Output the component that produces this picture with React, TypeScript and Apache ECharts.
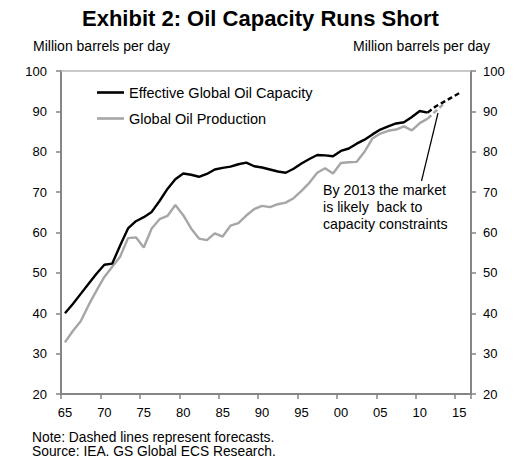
import React, { useEffect, useRef } from "react";
import * as echarts from "echarts";

const years: string[] = [];
for (let y = 1965; y <= 2016; y++) years.push(String(y));

// Effective Global Oil Capacity, actual 1965..2011
const capacityActual = [
  40.0, 42.3, 44.8, 47.3, 49.8, 52.0, 52.3, 56.8, 61.0, 62.8,
  63.8, 65.1, 67.8, 70.8, 73.2, 74.6, 74.3, 73.8, 74.5, 75.6,
  76.0, 76.3, 76.9, 77.3, 76.4, 76.1, 75.6, 75.1, 74.8, 75.8,
  77.1, 78.2, 79.2, 79.1, 78.9, 80.2, 80.8, 82.0, 83.0, 84.3,
  85.5, 86.3, 87.0, 87.3, 88.6, 90.1, 89.7,
];
// Capacity forecast 2011..2015
const capacityForecast = [89.7, 91.2, 92.3, 93.4, 94.5];

// Global Oil Production, actual 1965..2011
const productionActual = [
  32.8, 35.6, 38.0, 42.0, 45.6, 49.0, 51.5, 54.0, 58.6, 58.8,
  56.3, 61.0, 63.3, 64.1, 66.8, 64.3, 61.0, 58.5, 58.1, 59.8,
  59.0, 61.7, 62.3, 64.2, 65.8, 66.6, 66.3, 67.0, 67.4, 68.5,
  70.3, 72.3, 74.8, 75.9, 74.6, 77.2, 77.4, 77.5, 80.0, 83.3,
  84.5, 85.2, 85.5, 86.3, 85.3, 87.1, 88.2,
];
// Production forecast 2011..2013
const productionForecast = [88.2, 90.0, 91.8];

const forecastStartIndex = 2011 - 1965;

const yTicks = { min: 20, max: 100, interval: 10 };

const FONT = 'Arial, "Liberation Sans", sans-serif';

function pad(values: number[], start: number): (number | null)[] {
  const out: (number | null)[] = years.map(() => null);
  values.forEach((v, i) => {
    out[start + i] = v;
  });
  return out;
}

export default function App() {
  const ref = useRef<HTMLDivElement>(null);

  useEffect(() => {
    if (!ref.current) return;
    const chart = echarts.init(ref.current, null, { renderer: "svg" });
    const axisGray = "#858585";
    const yAxisCommon = {
      type: "value",
      min: yTicks.min,
      max: yTicks.max,
      interval: yTicks.interval,
      splitLine: { show: false },
      axisLine: { show: true, lineStyle: { color: axisGray, width: 2 } },
      axisTick: { show: true, inside: false, length: 5, lineStyle: { color: axisGray, width: 1.5 } },
    };
    chart.setOption({
      animation: false,
      backgroundColor: "#fff",
      textStyle: { fontFamily: FONT },
      grid: { left: 61, right: 61, top: 71, bottom: 78, containLabel: false },
      xAxis: [
        {
          type: "category",
          data: years,
          boundaryGap: true,
          position: "bottom",
          axisLine: { lineStyle: { color: axisGray, width: 2 } },
          axisTick: { show: true, interval: 4, length: 5, lineStyle: { color: axisGray, width: 1.5 } },
          axisLabel: {
            interval: 4,
            margin: 12,
            fontSize: 13,
            color: "#000",
            fontFamily: FONT,
            formatter: (v: string) => v.slice(2),
          },
          splitLine: { show: false },
        },
        {
          type: "category",
          data: years,
          boundaryGap: true,
          position: "top",
          axisLine: { lineStyle: { color: "#b8b8b8", width: 1.5 } },
          axisTick: { show: false },
          axisLabel: { show: false },
          splitLine: { show: false },
        },
      ],
      yAxis: [
        {
          ...yAxisCommon,
          position: "left",
          axisLabel: { margin: 14, fontSize: 13, color: "#000", fontFamily: FONT },
        },
        {
          ...yAxisCommon,
          position: "right",
          axisLabel: { margin: 12, fontSize: 13, color: "#000", fontFamily: FONT },
        },
      ],
      legend: {
        data: ["Effective Global Oil Capacity", "Global Oil Production"],
        orient: "vertical",
        left: 97,
        top: 85,
        padding: 0,
        icon: "rect",
        itemWidth: 27,
        itemHeight: 2.6,
        itemGap: 11,
        textStyle: { fontSize: 14.5, color: "#000", fontFamily: FONT },
      },
      series: [
        {
          name: "Global Oil Production",
          type: "line",
          symbol: "none",
          data: pad(productionActual, 0),
          lineStyle: { color: "#a6a6a6", width: 2.4 },
          itemStyle: { color: "#a6a6a6" },
        },
        {
          name: "Global Oil Production (forecast)",
          type: "line",
          symbol: "none",
          data: pad(productionForecast, forecastStartIndex),
          lineStyle: { color: "#a6a6a6", width: 2.4, type: [5, 3] },
          itemStyle: { color: "#a6a6a6" },
        },
        {
          name: "Effective Global Oil Capacity",
          type: "line",
          symbol: "none",
          data: pad(capacityActual, 0),
          lineStyle: { color: "#000", width: 2.4 },
          itemStyle: { color: "#000" },
        },
        {
          name: "Effective Global Oil Capacity (forecast)",
          type: "line",
          symbol: "none",
          data: pad(capacityForecast, forecastStartIndex),
          lineStyle: { color: "#000", width: 2.4, type: [5, 3] },
          itemStyle: { color: "#000" },
          markLine: {
            silent: true,
            symbol: ["none", "arrow"],
            symbolSize: [0, 9],
            label: { show: false },
            lineStyle: { color: "#000", width: 1.2, type: "solid" },
            data: [[{ x: 421.5, y: 181 }, { x: 438, y: 113 }]],
          },
        },
      ],
      graphic: [
        {
          type: "text",
          left: 82,
          top: 7,
          style: {
            text: "Exhibit 2: Oil Capacity Runs Short",
            font: `bold 22px ${FONT}`,
            fill: "#000",
          },
        },
        {
          type: "text",
          left: 33,
          top: 39,
          style: { text: "Million barrels per day", font: `14px ${FONT}`, fill: "#000" },
        },
        {
          type: "text",
          right: 42,
          top: 39,
          style: { text: "Million barrels per day", font: `14px ${FONT}`, fill: "#000" },
        },
        {
          type: "text",
          left: 323,
          top: 182,
          style: {
            text: "By 2013 the market\nis likely  back to\ncapacity constraints",
            font: `14.2px ${FONT}`,
            lineHeight: 16.7,
            fill: "#000",
          },
        },
        {
          type: "text",
          left: 32,
          top: 430,
          style: {
            text: "Note: Dashed lines represent forecasts.\nSource: IEA. GS Global ECS Research.",
            font: `13.8px ${FONT}`,
            lineHeight: 14,
            fill: "#000",
          },
        },
      ],
    });
    return () => chart.dispose();
  }, []);

  return (
    <div
      ref={ref}
      style={{ position: "fixed", left: 0, top: 0, width: 532, height: 472, background: "#fff" }}
    />
  );
}
